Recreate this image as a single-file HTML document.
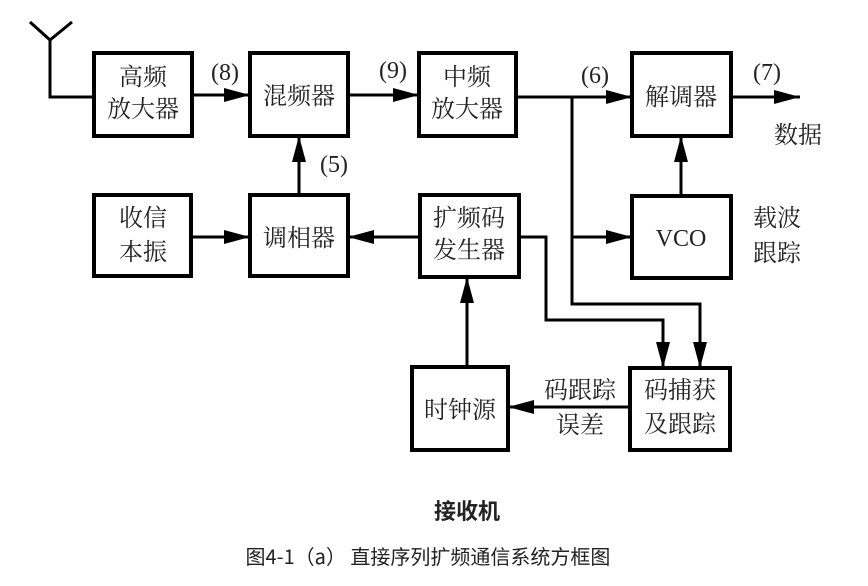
<!DOCTYPE html>
<html><head><meta charset="utf-8"><style>
body{margin:0;background:#fff}
svg text{font-family:"Liberation Serif","Noto Serif CJK SC","Noto Sans CJK SC",serif;fill:#222}
</style></head><body>
<svg width="868" height="581" viewBox="0 0 868 581" xmlns="http://www.w3.org/2000/svg">
<defs>
<marker id="b" viewBox="0 0 26 14" markerWidth="26" markerHeight="14" refX="26" refY="7" orient="auto" markerUnits="userSpaceOnUse"><path d="M0,0 L26,7 L0,14Z" fill="#000"/></marker></defs>
<g fill="none" stroke="#000" stroke-width="4">
<rect x="94" y="53" width="98" height="83"/>
<rect x="250" y="53" width="98" height="83"/>
<rect x="419" y="53" width="97" height="83"/>
<rect x="632" y="53" width="99" height="83"/>
<rect x="94" y="195" width="97" height="81"/>
<rect x="250" y="195" width="98" height="81"/>
<rect x="420" y="195" width="99" height="82"/>
<rect x="632" y="196" width="99" height="82"/>
<rect x="412" y="367" width="96" height="83"/>
<rect x="630" y="368" width="100" height="82"/>
</g>
<g fill="none" stroke="#000" stroke-width="3">
<path d="M30,22 L50,40 L72,22 M50,40 V97 H94"/>
<path d="M192,95 H250" marker-end="url(#b)"/>
<path d="M348,95 H419" marker-end="url(#b)"/>
<path d="M516,97 H632" marker-end="url(#b)"/>
<path d="M731,97 H800" marker-end="url(#b)"/>
<path d="M681,196 V136" marker-end="url(#b)"/>
<path d="M299,195 V136" marker-end="url(#b)"/>
<path d="M191,237 H250" marker-end="url(#b)"/>
<path d="M420,237 H348" marker-end="url(#b)"/>
<path d="M572,237 H632" marker-end="url(#b)"/>
<path d="M467,367 V277" marker-end="url(#b)"/>
<path d="M630,407 H508" marker-end="url(#b)"/>
<path d="M572,97 V304 H700 V368" marker-end="url(#b)"/>
<path d="M519,237 H546 V320 H663 V368" marker-end="url(#b)"/>
</g>
<g font-size="24" text-anchor="middle">
<text x="143" y="85">高频</text><text x="143" y="117">放大器</text>
<text x="299" y="104">混频器</text>
<text x="467" y="85">中频</text><text x="467" y="117">放大器</text>
<text x="681" y="105">解调器</text>
<text x="143" y="226">收信</text><text x="143" y="260">本振</text>
<text x="299" y="246">调相器</text>
<text x="469" y="226">扩频码</text><text x="469" y="258">发生器</text>
<text x="681" y="246">VCO</text>
<text x="460" y="418">时钟源</text>
<text x="680" y="398">码捕获</text><text x="680" y="432">及跟踪</text>
<text x="580" y="398">码跟踪</text><text x="580" y="433">误差</text>
<text x="225" y="80">(8)</text><text x="393" y="78">(9)</text>
<text x="334" y="172">(5)</text><text x="595" y="83">(6)</text>
<text x="767" y="80">(7)</text>
<text x="798" y="143">数据</text>
<text x="777" y="226">载波</text><text x="777" y="261">跟踪</text>
</g>
<text x="467" y="519" font-size="22" font-weight="bold" text-anchor="middle" style="font-family:'Noto Sans CJK SC',sans-serif">接收机</text>
<text x="428" y="564" font-size="20" text-anchor="middle" style="font-family:'Noto Sans CJK SC',sans-serif">图4-1（a）  直接序列扩频通信系统方框图</text>
</svg>
</body></html>
